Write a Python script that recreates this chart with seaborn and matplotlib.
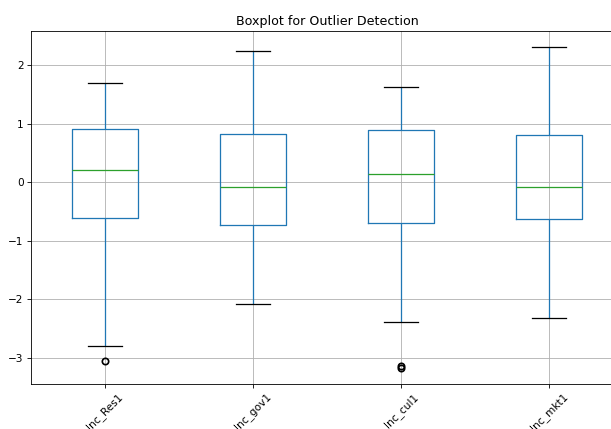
import matplotlib
matplotlib.use("Agg")
import matplotlib.pyplot as plt
import pandas as pd
import seaborn as sns

# Standardised scores per indicator
columns = ["Inc_Res1", "Inc_gov1", "Inc_cul1", "Inc_mkt1"]
inc_res1 = [-3.05, -2.79, -0.61, -0.61, 0.21, 0.21, 0.91, 0.91, 1.70]
inc_gov1 = [-2.08, -0.73, -0.73, -0.075, 0.83, 0.83, 2.24]
inc_cul1 = [-3.17, -3.14, -2.38, -0.70, -0.70, 0.14, 0.14, 0.14, 0.90, 0.90, 1.63, 1.63, 1.63]
inc_mkt1 = [-2.32, -0.63, -0.63, -0.075, 0.81, 0.81, 2.31]

values = [inc_res1, inc_gov1, inc_cul1, inc_mkt1]
df = pd.concat(
    [pd.DataFrame({"variable": c, "value": v}) for c, v in zip(columns, values)],
    ignore_index=True,
)

DPI = 76
W, H = 611, 429
fig = plt.figure(figsize=(W / DPI, H / DPI), dpi=DPI)
ax = fig.add_axes([31 / W, 45 / H, 592 / W, 353 / H])

sns.boxplot(
    data=df, x="variable", y="value", order=columns, ax=ax,
    width=0.45, fill=False, color="#1f77b4", linewidth=1.2,
    boxprops=dict(color="#1f77b4"),
    whiskerprops=dict(color="#1f77b4"),
    medianprops=dict(color="#2ca02c"),
    capprops=dict(color="black"),
    flierprops=dict(marker="o", markerfacecolor="none",
                    markeredgecolor="black", markersize=6,
                    markeredgewidth=1.6),
)

ax.grid(True, color="#b0b0b0", linewidth=0.8)
ax.set_xlabel("")
ax.set_ylabel("")
ax.set_title("Boxplot for Outlier Detection")
ax.tick_params(axis="x", labelrotation=45)

fig.savefig("out.png", dpi=DPI)
